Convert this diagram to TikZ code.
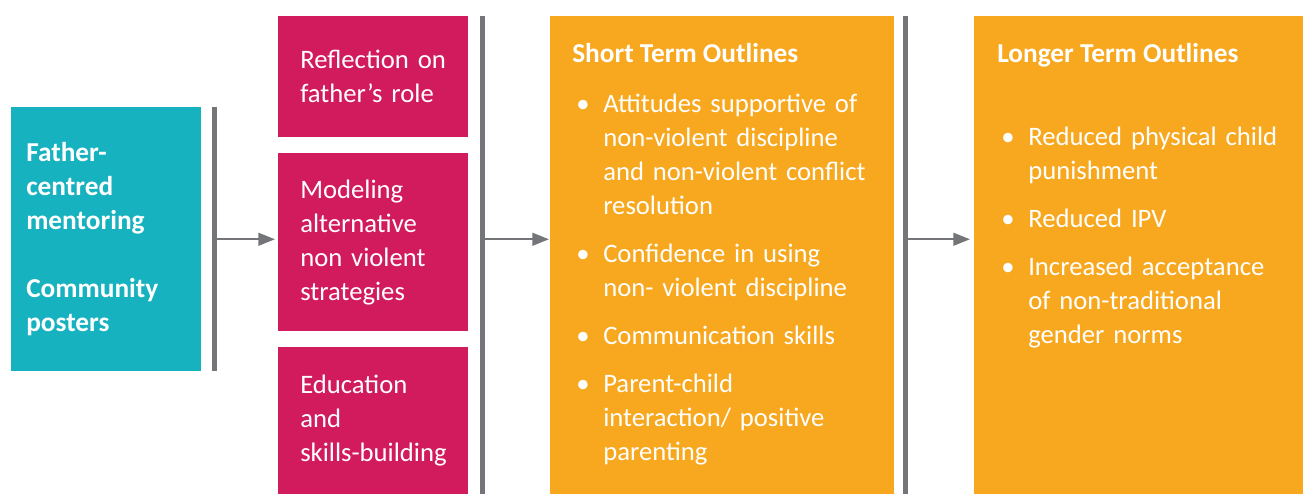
\documentclass[tikz,border=0pt]{standalone}
\usepackage{fontspec}
\setmainfont{Carlito}
\usetikzlibrary{arrows.meta}
\definecolor{mentorteal}{HTML}{17B2BF}
\definecolor{actmagenta}{HTML}{D11B5C}
\definecolor{outorange}{HTML}{F7A81F}
\definecolor{bargray}{HTML}{747578}
\newdimen\px \px=0.75pt
\newcommand\bpoint{\par\noindent\hangindent=27\px\hangafter=1\makebox[27\px][l]{\textbullet}}
\newcommand\bgap{\par\vspace{14\px}}
\begin{document}
\begin{tikzpicture}[x=0.75pt, y=-0.75pt,
    txt/.style = {text=white, font=\fontsize{20}{25.5}\selectfont, align=left},
    inbox/.style = {txt, fill=mentorteal, font=\fontsize{20.5}{25.5}\selectfont\bfseries,
        anchor=north west, inner xsep=15\px, inner ysep=0pt, text width=160\px},
    actbox/.style = {txt, fill=actmagenta, anchor=north west, inner xsep=22\px,
        inner ysep=0pt, text width=146\px},
    outbox/.style = {fill=outorange, anchor=north west, inner sep=0pt, minimum height=478\px},
    head/.style = {txt, font=\fontsize{20.5}{25.5}\selectfont\bfseries, anchor=base west, inner sep=0pt},
    list/.style = {txt, anchor=north west, inner sep=0pt},
    bar/.style = {fill=bargray, inner sep=0pt, minimum width=5\px},
    flow/.style = {draw=bargray, line width=1.8pt, -{Triangle[length=12.5pt, width=9.5pt]}}]
  \useasboundingbox (0,0) rectangle (1303,495);
  % input
  \node[inbox, minimum height=264\px] (mentor) at (11,107)
    {Father-\\centred\\mentoring\\[25.5pt]Community\\posters};
  \node[bar, minimum height=264\px] (bar1) at (214.5,239) {};
  % activities
  \node[actbox, minimum height=121\px] (reflect) at (278,16) {Reflection on\\father’s role};
  \node[actbox, minimum height=178\px] (model) at (278,153)
    {Modeling\\alternative\\non violent\\strategies};
  \node[actbox, minimum height=147\px] (educ) at (278,347) {Education\\and\\\mbox{skills-building}};
  \node[bar, minimum height=478\px] (bar2) at (482,255) {};
  % short term
  \node[outbox, minimum width=344\px] (short) at (550,16) {};
  \node[head] (shorthead) at (572,62.5) {Short Term Outlines};
  \node[list, text width=315\px] (shortlist) at (576,78)
    {\bpoint\strut Attitudes supportive of\newline non-violent discipline\newline and non-violent conflict\newline resolution\bgap
     \bpoint Confidence in using\newline non- violent discipline\bgap
     \bpoint Communication skills\bgap
     \bpoint Parent-child\newline interaction/ positive\newline parenting\par};
  \node[bar, minimum height=478\px] (bar3) at (905.5,255) {};
  % longer term
  \node[outbox, minimum width=329\px] (longer) at (974,16) {};
  \node[head] (longhead) at (997,62.5) {Longer Term Outlines};
  \node[list, text width=295\px] (longlist) at (1001,111)
    {\bpoint\strut Reduced physical child\newline punishment\bgap
     \bpoint Reduced IPV\bgap
     \bpoint Increased acceptance\newline of non-traditional\newline gender norms\par};
  % arrows
  \draw[flow, shorten >=3\px] (bar1.east |- mentor.east) -- (model.west |- mentor.east);
  \draw[flow, shorten >=1\px] (bar2.east |- mentor.east) -- (short.west |- mentor.east);
  \draw[flow, shorten >=4\px] (bar3.east |- mentor.east) -- (longer.west |- mentor.east);
\end{tikzpicture}
\end{document}
